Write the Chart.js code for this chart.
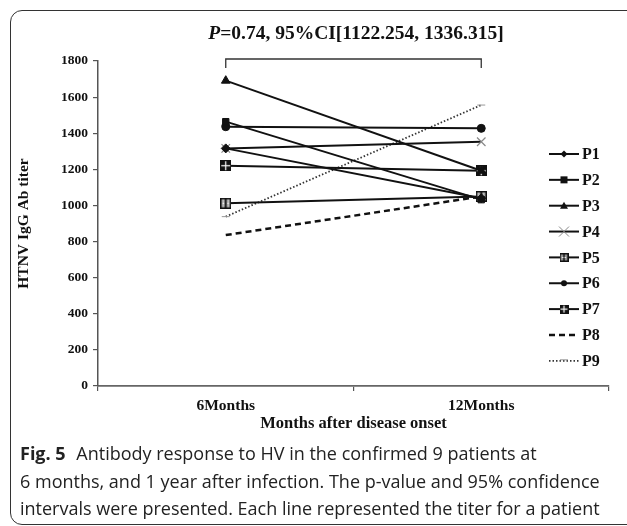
<!DOCTYPE html>
<html>
<head>
<meta charset="utf-8">
<script src="https://cdn.jsdelivr.net/npm/chart.js@4"></script>
<style>
  html, body { margin: 0; padding: 0; background: #fff; }
  body { width: 627px; height: 526px; position: relative; overflow: hidden; }
  #frame {
    position: absolute; left: 10px; top: 10px; width: 640px; height: 515px;
    border: 1.5px solid #333; border-radius: 12px; box-sizing: border-box;
  }
  #wrap { position: absolute; left: 0; top: 0; width: 627px; height: 445px; }
  #caption {
    position: absolute; left: 20px; top: 440px; width: 610px;
    font-family: "Open Sans", sans-serif; font-size: 18px; line-height: 27.5px;
    color: #222; white-space: nowrap;
  }
  #caption b { font-weight: 700; margin-right: 6px; }
</style>
</head>
<body>
<div id="frame"></div>
<div id="wrap"><canvas id="chart" width="627" height="445"></canvas></div>
<div id="caption"><b>Fig. 5</b> Antibody response to HV in the confirmed 9 patients at<br>6 months, and 1 year after infection. The p-value and 95% confidence<br>intervals were presented. Each line represented the titer for a patient</div>
<script>
// chart data
const categories = ['6Months', '12Months']
const patients = ['P1', 'P2', 'P3', 'P4', 'P5', 'P6', 'P7', 'P8', 'P9']
const titer6 = [1316, 1464, 1691, 1316, 1012, 1436, 1220, 836, 938]
const titer12 = [1040, 1032, 1192, 1353, 1050, 1427, 1192, 1050, 1556]
const yTicks = [0, 200, 400, 600, 800, 1000, 1200, 1400, 1600, 1800]

const serif = '"Liberation Serif", "Times New Roman", serif'

// little square markers with a pattern, like the excel ones
function makeSquare (kind, size) {
  const c = document.createElement('canvas')
  c.width = size
  c.height = size
  const g = c.getContext('2d')
  g.fillStyle = '#111'
  g.fillRect(0, 0, size, size)
  g.fillStyle = '#fff'
  if (kind === 'grid') {
    const m = size / 2
    g.fillRect(m - 0.6, 1, 1.2, size - 2)
    g.fillRect(1, m - 0.6, size - 2, 1.2)
  } else {
    g.fillStyle = '#bbb'
    g.fillRect(1.5, 1.5, size - 3, size - 3)
    g.fillStyle = '#111'
    g.fillRect(size / 2 - 1, 0, 2, size)
    g.fillStyle = '#fff'
    g.fillRect(2.5, size / 2 - 0.5, 1.5, 1)
    g.fillRect(size - 4, size / 2 - 0.5, 1.5, 1)
  }
  return c
}

const sq5 = makeSquare('pattern', 11)
const sq7 = makeSquare('grid', 11)
const sq5s = makeSquare('pattern', 9)
const sq7s = makeSquare('grid', 9)

const looks = [
  { point: 'rectRot', r: 4.5, color: '#111', dash: [], width: 2 },
  { point: 'rect', r: 4.5, color: '#111', dash: [], width: 2 },
  { point: 'triangle', r: 5, color: '#111', dash: [], width: 2 },
  { point: 'crossRot', r: 6, color: '#111', dash: [], width: 2, pw: 1.2, pc: '#888' },
  { point: sq5, small: sq5s, r: 5, color: '#111', dash: [], width: 2 },
  { point: 'circle', r: 4, color: '#111', dash: [], width: 2 },
  { point: sq7, small: sq7s, r: 5, color: '#111', dash: [], width: 2 },
  { point: false, r: 0, color: '#111', dash: [6, 4], width: 2.5 },
  { point: 'line', r: 4, color: '#333', dash: [1.5, 2], width: 1.8, pc: '#999' }
]

const datasets = patients.map((p, i) => ({
  label: p,
  data: [titer6[i], titer12[i]],
  borderColor: looks[i].color,
  borderWidth: looks[i].width,
  borderDash: looks[i].dash,
  pointStyle: looks[i].point,
  pointRadius: looks[i].r,
  pointHoverRadius: looks[i].r,
  pointBackgroundColor: looks[i].pc || looks[i].color,
  pointBorderColor: looks[i].pc || looks[i].color,
  pointBorderWidth: looks[i].pw || 1,
  tension: 0
}))

// the P value text and bracket above the plot
const topNote = {
  id: 'topNote',
  afterDraw (chart) {
    const ctx = chart.ctx
    const x = chart.scales.x
    const x0 = x.getPixelForValue(0)
    const x1 = x.getPixelForValue(1)
    ctx.save()
    ctx.strokeStyle = '#333'
    ctx.lineWidth = 1.3
    ctx.beginPath()
    ctx.moveTo(x0, 68)
    ctx.lineTo(x0, 59)
    ctx.lineTo(x1, 59)
    ctx.lineTo(x1, 68)
    ctx.stroke()

    const pPart = 'P'
    const rest = '=0.74, 95%CI[1122.254, 1336.315]'
    ctx.fillStyle = '#111'
    ctx.textBaseline = 'middle'
    ctx.font = 'italic bold 19.5px ' + serif
    const w1 = ctx.measureText(pPart).width
    ctx.font = 'bold 19.5px ' + serif
    const w2 = ctx.measureText(rest).width
    const start = 356 - (w1 + w2) / 2
    ctx.font = 'italic bold 19.5px ' + serif
    ctx.fillText(pPart, start, 34)
    ctx.font = 'bold 19.5px ' + serif
    ctx.fillText(rest, start + w1, 34)
    ctx.restore()
  }
}

// excel style legend: line with the marker in the middle
const sideLegend = {
  id: 'sideLegend',
  afterDraw (chart) {
    const ctx = chart.ctx
    ctx.save()
    chart.data.datasets.forEach((ds, i) => {
      const lk = looks[i]
      const y = 154 + i * 25.85
      ctx.strokeStyle = lk.color
      ctx.lineWidth = lk.width
      ctx.setLineDash(lk.dash)
      ctx.beginPath()
      ctx.moveTo(549, y)
      ctx.lineTo(579, y)
      ctx.stroke()
      ctx.setLineDash([])
      const cx = 564
      ctx.fillStyle = lk.pc || lk.color
      ctx.strokeStyle = lk.pc || lk.color
      if (lk.small) {
        ctx.drawImage(lk.small, cx - 4.5, y - 4.5, 9, 9)
      } else if (lk.point === 'rectRot') {
        ctx.beginPath()
        ctx.moveTo(cx, y - 3.5); ctx.lineTo(cx + 3.5, y); ctx.lineTo(cx, y + 3.5); ctx.lineTo(cx - 3.5, y)
        ctx.closePath(); ctx.fill()
      } else if (lk.point === 'rect') {
        ctx.fillRect(cx - 3.5, y - 3.5, 7, 7)
      } else if (lk.point === 'triangle') {
        ctx.beginPath()
        ctx.moveTo(cx, y - 4); ctx.lineTo(cx + 4, y + 3); ctx.lineTo(cx - 4, y + 3)
        ctx.closePath(); ctx.fill()
      } else if (lk.point === 'crossRot') {
        ctx.lineWidth = 1
        ctx.beginPath()
        ctx.moveTo(cx - 5, y - 5); ctx.lineTo(cx + 5, y + 5)
        ctx.moveTo(cx + 5, y - 5); ctx.lineTo(cx - 5, y + 5)
        ctx.stroke()
      } else if (lk.point === 'circle') {
        ctx.beginPath(); ctx.arc(cx, y, 3, 0, Math.PI * 2); ctx.fill()
      } else if (lk.point === 'line') {
        ctx.lineWidth = 1
        ctx.beginPath(); ctx.moveTo(cx - 4, y - 1); ctx.lineTo(cx + 4, y - 1); ctx.stroke()
      }
      ctx.fillStyle = '#111'
      ctx.font = 'bold 16px ' + serif
      ctx.textBaseline = 'middle'
      ctx.fillText(ds.label, 582, y + 1)
    })
    ctx.restore()
  }
}

const chart = new Chart(document.getElementById('chart'), {
  type: 'line',
  data: { labels: categories, datasets },
  options: {
    responsive: false,
    animation: false,
    events: [],
    layout: { padding: { left: 0, top: 61, right: 18, bottom: 5 } },
    plugins: {
      legend: { display: false },
      tooltip: { enabled: false }
    },
    scales: {
      x: {
        offset: true,
        afterFit (scale) { scale.height = 54 },
        grid: { offset: true, drawOnChartArea: false, drawTicks: true, tickLength: 5, color: '#555', lineWidth: 1.2 },
        border: { color: '#666', width: 1.8 },
        ticks: { color: '#111', padding: 6, font: { family: serif, size: 15.5, weight: 'bold' } },
        title: {
          display: true,
          text: 'Months after disease onset',
          color: '#111',
          padding: { top: 0, bottom: 6 },
          font: { family: serif, size: 16.5, weight: 'bold' }
        }
      },
      y: {
        min: 0,
        max: 1800,
        afterFit (scale) { scale.width = 98 },
        afterBuildTicks (scale) { scale.ticks = yTicks.map(v => ({ value: v })) },
        grid: { drawOnChartArea: false, drawTicks: true, tickLength: 5, color: '#555', lineWidth: 1.2 },
        border: { color: '#555', width: 1.5 },
        ticks: {
          color: '#111',
          padding: 5,
          font: { family: serif, size: 13.5, weight: 'bold' },
          callback: (v) => String(v)
        },
        title: {
          display: true,
          text: 'HTNV IgG Ab titer',
          color: '#111',
          padding: { top: 15, bottom: 0 },
          font: { family: serif, size: 15.5, weight: 'bold' }
        }
      }
    }
  },
  plugins: [topNote, sideLegend]
})
</script>
</body>
</html>
